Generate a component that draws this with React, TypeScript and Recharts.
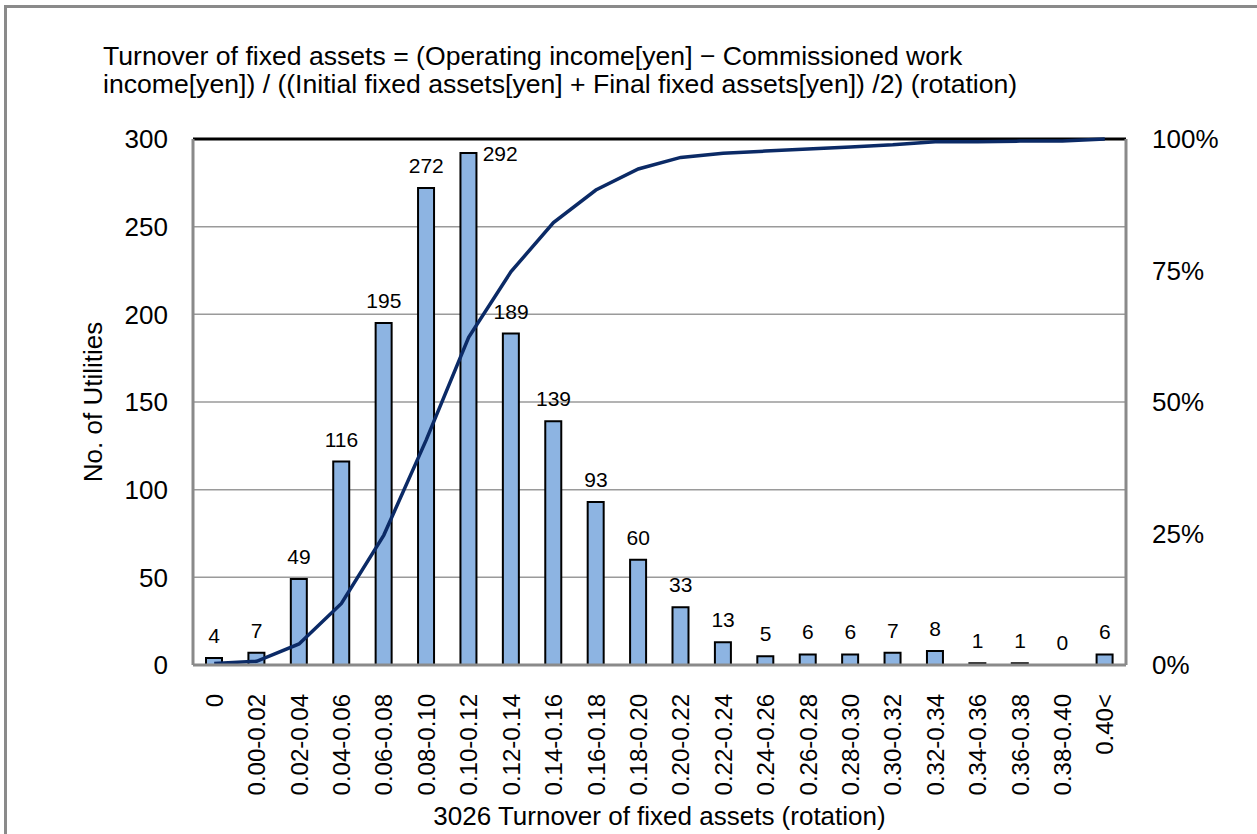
import {
  Bar,
  CartesianGrid,
  ComposedChart,
  LabelList,
  Line,
  ReferenceLine,
  XAxis,
  YAxis,
} from "recharts";

const categories = [
  "0", "0.00-0.02", "0.02-0.04", "0.04-0.06", "0.06-0.08", "0.08-0.10",
  "0.10-0.12", "0.12-0.14", "0.14-0.16", "0.16-0.18", "0.18-0.20", "0.20-0.22",
  "0.22-0.24", "0.24-0.26", "0.26-0.28", "0.28-0.30", "0.30-0.32", "0.32-0.34",
  "0.34-0.36", "0.36-0.38", "0.38-0.40", "0.40<",
];
const counts = [4, 7, 49, 116, 195, 272, 292, 189, 139, 93, 60, 33, 13, 5, 6, 6, 7, 8, 1, 1, 0, 6];
const cumulativePct = [
  0.3, 0.7, 4.0, 11.7, 24.7, 42.8, 62.3, 74.8, 84.1, 90.3, 94.3, 96.5,
  97.3, 97.7, 98.1, 98.5, 98.9, 99.5, 99.5, 99.6, 99.6, 100,
];
const countTicks = [0, 50, 100, 150, 200, 250, 300];
const pctTicks = [0, 25, 50, 75, 100];

const FONT = '"Liberation Sans", Arial, sans-serif';
const AXIS_GRAY = "#8a8a8a";

const data = categories.map((cat, i) => ({ cat, count: counts[i], cum: cumulativePct[i] }));

function XTick({ x, y, payload }: any) {
  return (
    <text
      x={x}
      y={y + 27}
      transform={`rotate(-90, ${x}, ${y + 27})`}
      textAnchor="end"
      dy="0.36em"
      fontSize={24}
      fontFamily={FONT}
      fill="#000"
    >
      {payload.value}
    </text>
  );
}

// labels sit on the bar tops; the tallest one goes beside its bar
function CountLabel(props: any) {
  const { x, y, value } = props;
  if (value >= 290) {
    return (
      <text x={x + 14} y={y} dy="0.36em" textAnchor="start" fontSize={21} fontFamily={FONT} fill="#000">
        {value}
      </text>
    );
  }
  return (
    <text x={x} y={y - 15} textAnchor="middle" fontSize={21} fontFamily={FONT} fill="#000">
      {value}
    </text>
  );
}

export default function App() {
  return (
    <div
      style={{
        position: "fixed",
        left: 0,
        top: 0,
        width: 1257,
        height: 834,
        overflow: "hidden",
        background: "#fff",
        fontFamily: FONT,
        color: "#000",
      }}
    >
      <svg width={1257} height={834} style={{ position: "absolute", left: 0, top: 0 }}>
        <polyline points="5.5,900 5.5,6.5 1300,6.5" fill="none" stroke={AXIS_GRAY} strokeWidth={3} />
      </svg>
      <div style={{ position: "absolute", left: 103, top: 42, fontSize: 26.6, lineHeight: "28px", whiteSpace: "nowrap" }}>
        Turnover of fixed assets = (Operating income[yen] − Commissioned work
        <br />
        income[yen]) / ((Initial fixed assets[yen] + Final fixed assets[yen]) /2) (rotation)
      </div>
      <div
        style={{
          position: "absolute",
          left: 93 - 200,
          top: 402 - 14,
          width: 400,
          height: 28,
          fontSize: 26,
          lineHeight: "28px",
          textAlign: "center",
          transform: "rotate(-90deg)",
        }}
      >
        No. of Utilities
      </div>
      <div
        style={{
          position: "absolute",
          left: 193,
          width: 933,
          top: 802,
          fontSize: 26,
          lineHeight: "28px",
          textAlign: "center",
        }}
      >
        3026 Turnover of fixed assets (rotation)
      </div>
      <div style={{ position: "absolute", left: 0, top: 0 }}>
        <ComposedChart width={1257} height={834} data={data} margin={{ top: 139, right: 31, bottom: 39, left: 133 }}>
          <CartesianGrid yAxisId="left" vertical={false} stroke="#9a9a9a" strokeWidth={1.5} />
          <XAxis
            dataKey="cat"
            interval={0}
            height={130}
            tick={<XTick />}
            tickLine={false}
            tickSize={0}
            axisLine={{ stroke: AXIS_GRAY, strokeWidth: 3 }}
          />
          <YAxis
            yAxisId="left"
            width={60}
            domain={[0, 300]}
            ticks={countTicks}
            tickLine={false}
            tickSize={0}
            tickMargin={25}
            axisLine={{ stroke: AXIS_GRAY, strokeWidth: 3 }}
            tick={{ fill: "#000", fontSize: 26, fontFamily: FONT }}
          />
          <YAxis
            yAxisId="right"
            orientation="right"
            width={100}
            domain={[0, 100]}
            ticks={pctTicks}
            tickFormatter={(v) => `${v}%`}
            tickLine={false}
            tickSize={0}
            tickMargin={26}
            axisLine={{ stroke: AXIS_GRAY, strokeWidth: 3 }}
            tick={{ fill: "#000", fontSize: 26, fontFamily: FONT }}
          />
          <ReferenceLine yAxisId="left" y={300} stroke="#000" strokeWidth={3} />
          <Bar
            yAxisId="left"
            dataKey="count"
            fill="#8DB4E2"
            stroke="#000"
            strokeWidth={2}
            barSize={16}
            isAnimationActive={false}
          />
          <Line
            yAxisId="left"
            dataKey="count"
            stroke="none"
            dot={false}
            activeDot={false}
            isAnimationActive={false}
          >
            <LabelList dataKey="count" content={<CountLabel />} />
          </Line>
          <Line
            yAxisId="right"
            dataKey="cum"
            type="linear"
            stroke="#0b2a66"
            strokeWidth={3.5}
            dot={false}
            activeDot={false}
            isAnimationActive={false}
          />
        </ComposedChart>
      </div>
    </div>
  );
}
